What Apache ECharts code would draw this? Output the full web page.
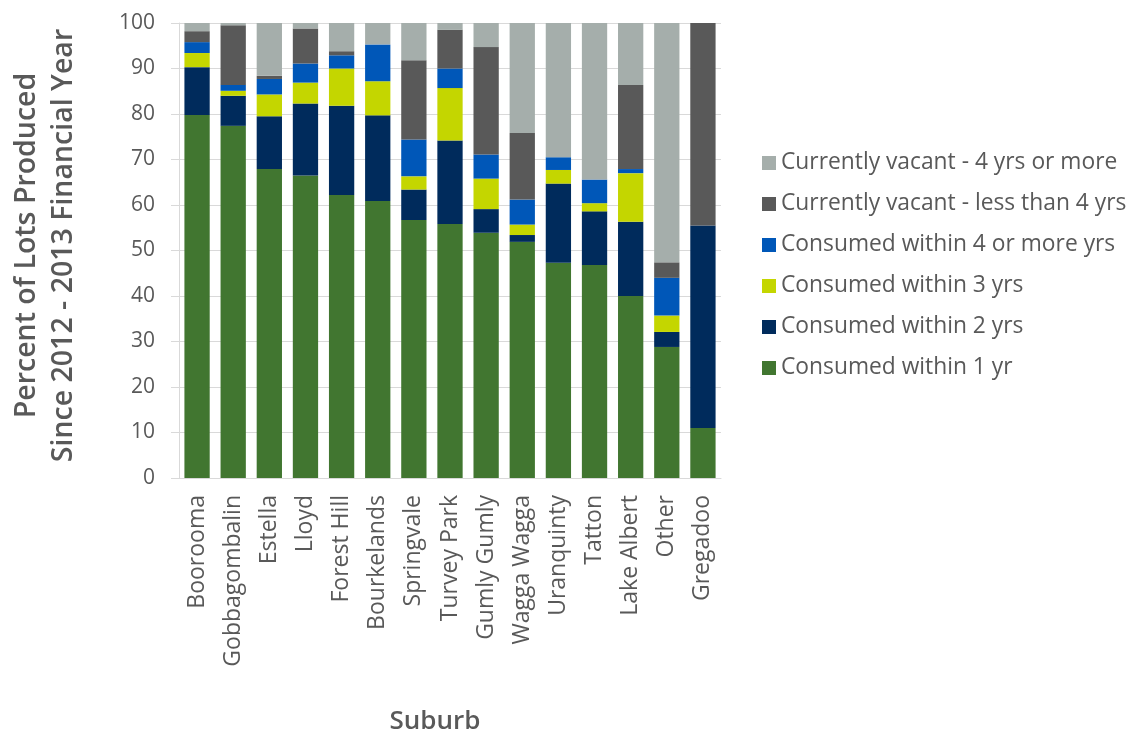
<!DOCTYPE html>
<html>
<head>
<meta charset="utf-8">
<title>Lots produced by suburb</title>
<script src="https://cdn.jsdelivr.net/npm/echarts@6/dist/echarts.min.js"></script>
<style>
  html, body { margin: 0; padding: 0; background: #fff; }
  #chart { width: 1131px; height: 731px; }
</style>
</head>
<body>
<div id="chart"></div>
<script>
// categories
var suburbs = ['Boorooma', 'Gobbagombalin', 'Estella', 'Lloyd', 'Forest Hill', 'Bourkelands', 'Springvale',
    'Turvey Park', 'Gumly Gumly', 'Wagga Wagga', 'Uranquinty', 'Tatton', 'Lake Albert', 'Other', 'Gregadoo'];

// percent of lots
var within1 = [79.8, 77.4, 67.9, 66.5, 62.2, 60.9, 56.7, 55.8, 53.9, 51.9, 47.3, 46.8, 40.0, 28.8, 11.0];
var within2 = [10.5, 6.6, 11.6, 15.8, 19.6, 18.8, 6.7, 18.4, 5.2, 1.5, 17.4, 11.8, 16.3, 3.3, 44.5];
var within3 = [3.1, 1.1, 4.8, 4.6, 8.2, 7.5, 2.9, 11.5, 6.7, 2.3, 3.0, 1.8, 10.7, 3.6, 0];
var within4plus = [2.4, 1.3, 3.4, 4.2, 2.9, 8.1, 8.1, 4.3, 5.3, 5.5, 2.8, 5.2, 0.9, 8.3, 0];
var vacantLess4 = [2.4, 13.1, 0.7, 7.7, 0.9, 0, 17.4, 8.5, 23.6, 14.6, 0, 0, 18.5, 3.4, 44.5];
var vacant4plus = [1.8, 0.5, 11.6, 1.2, 6.2, 4.7, 8.2, 1.5, 5.3, 24.2, 29.5, 34.4, 13.6, 52.6, 0];

var yTicks = [0, 10, 20, 30, 40, 50, 60, 70, 80, 90, 100];

var seriesNames = ['Consumed within 1 yr', 'Consumed within 2 yrs', 'Consumed within 3 yrs',
    'Consumed within 4 or more yrs', 'Currently vacant - less than 4 yrs', 'Currently vacant - 4 yrs or more'];
var seriesData = [within1, within2, within3, within4plus, vacantLess4, vacant4plus];
var colors = ['#417630', '#002B5C', '#C4D600', '#0057B8', '#595959', '#A5AEAB'];

var textColor = '#595959';
var fontFam = '"Open Sans", sans-serif';

var chart = echarts.init(document.getElementById('chart'));

var series = seriesNames.map(function (name, i) {
    return {
        name: name,
        type: 'bar',
        stack: 'total',
        barCategoryGap: '30%',
        itemStyle: { color: colors[i] },
        data: seriesData[i]
    };
});

var option = {
    animation: false,
    textStyle: { fontFamily: fontFam },
    grid: {
        left: 179,
        right: 410,
        top: 23,
        bottom: 253,
        outerBoundsMode: 'none'
    },
    legend: {
        orient: 'vertical',
        left: 757,
        top: 145,
        itemWidth: 14,
        itemHeight: 14,
        itemGap: 15,
        icon: 'rect',
        data: seriesNames.slice().reverse(),
        textStyle: {
            color: textColor,
            fontSize: 22.8,
            lineHeight: 26,
            fontFamily: fontFam
        }
    },
    xAxis: {
        type: 'category',
        data: suburbs,
        name: 'Suburb',
        nameLocation: 'middle',
        nameGap: 231,
        nameTextStyle: {
            color: textColor,
            fontSize: 26,
            fontWeight: 600,
            fontFamily: fontFam,
            padding: [0, 30, 0, 0]
        },
        axisLine: { lineStyle: { color: '#D9D9D9' } },
        axisTick: { show: false },
        axisLabel: {
            rotate: 90,
            margin: 17,
            color: textColor,
            fontSize: 23,
            fontFamily: fontFam
        }
    },
    yAxis: {
        type: 'value',
        min: yTicks[0],
        max: yTicks[yTicks.length - 1],
        interval: 10,
        name: 'Percent of Lots Produced\nSince 2012 - 2013 Financial Year',
        nameLocation: 'middle',
        nameGap: 97,
        nameTextStyle: {
            color: textColor,
            fontSize: 28.5,
            fontWeight: 600,
            lineHeight: 37,
            fontFamily: fontFam,
            padding: [0, 0, 0, 10]
        },
        axisLine: { show: true, lineStyle: { color: '#D9D9D9' } },
        axisTick: { show: true, length: 8, lineStyle: { color: '#D9D9D9' } },
        splitLine: { lineStyle: { color: '#D9D9D9' } },
        axisLabel: {
            margin: 24,
            color: textColor,
            fontSize: 21,
            fontFamily: fontFam
        }
    },
    series: series
};

chart.setOption(option);

window.addEventListener('resize', function () {
    chart.resize();
});
</script>
</body>
</html>
